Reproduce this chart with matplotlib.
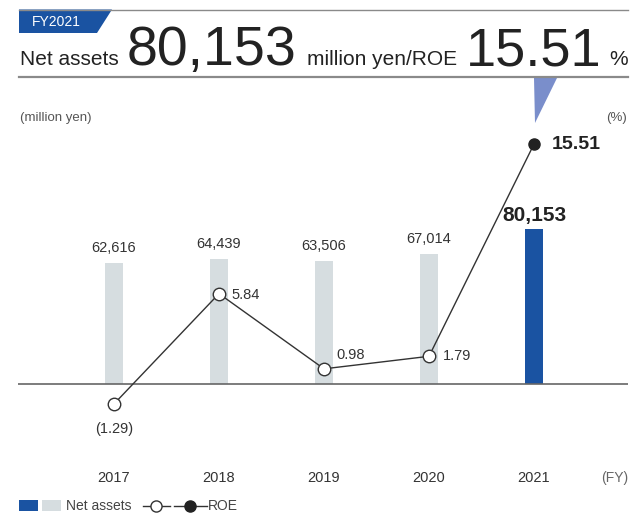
import matplotlib
matplotlib.use('Agg')
import matplotlib.pyplot as plt
from matplotlib.patches import Polygon, Rectangle

plt.rcParams['font.family'] = ['Liberation Sans', 'DejaVu Sans']

years = ['2017', '2018', '2019', '2020', '2021']
net_assets = [62616, 64439, 63506, 67014, 80153]
roe = [-1.29, 5.84, 0.98, 1.79, 15.51]
roe_labels = ['(1.29)', '5.84', '0.98', '1.79', '15.51']

GREY_BAR = '#d6dde0'
BLUE = '#1a53a2'
TEXT = '#333333'

W, H = 631, 515
fig = plt.figure(figsize=(W / 100, H / 100), dpi=100)


def px_box(left, top, right, bottom):
    # pixel box -> figure fraction rect
    return [left / W, 1 - bottom / H, (right - left) / W, (bottom - top) / H]


# main chart area (bars on ax, ROE on ax2)
ax = fig.add_axes(px_box(18, 130, 628, 460))
ax2 = ax.twinx()
x = list(range(len(years)))

colors = [GREY_BAR] * (len(years) - 1) + [BLUE]
ax.bar(x, net_assets, width=0.18, color=colors, zorder=1)
ax.axhline(0, color='#666666', lw=1.2, zorder=2)
ax.set_xlim(-0.914, 4.895)
ax.set_ylim(-39300, 131350)
ax2.set_ylim(-4.913, 16.419)

for i, v in enumerate(net_assets):
    last = i == len(net_assets) - 1
    ax.annotate(f'{v:,}', (i, v), xytext=(0, 3 if last else 6), textcoords='offset points',
                ha='center', va='bottom', fontsize=15 if last else 10.5,
                fontweight='bold' if last else 'normal', color=TEXT if not last else '#222222')

for i, yr in enumerate(years):
    ax.text(i, -0.055, yr, transform=ax.get_xaxis_transform(), ha='center', va='center',
            fontsize=10.5, color=TEXT)
ax.text(1.0, -0.055, '(FY)', transform=ax.transAxes, ha='right', va='center',
        fontsize=10, color='#666666')

# ROE line: open markers, last year filled
ax2.plot(x, roe, color='#333333', lw=1.0, zorder=3)
ax2.plot(x[:-1], roe[:-1], 'o', ms=9, mfc='white', mec='#333333', mew=1.0, zorder=4)
ax2.plot(x[-1:], roe[-1:], 'o', ms=8, mfc='#222222', mec='#222222', zorder=4)

label_pos = [(0, -18, 'center', 'center'), (9, -1, 'left', 'center'), (9, 10, 'left', 'center'),
             (10, 0, 'left', 'center'), (13, 0, 'left', 'center')]
for i, (txt, (dx, dy, ha, va)) in enumerate(zip(roe_labels, label_pos)):
    last = i == len(roe) - 1
    ax2.annotate(txt, (i, roe[i]), xytext=(dx, dy), textcoords='offset points', ha=ha, va=va,
                 fontsize=14 if last else 10.5, fontweight='bold' if last else 'normal',
                 color='#222222' if last else TEXT)

for a in (ax, ax2):
    a.axis('off')

# header, side units and legend drawn in pixel space
ov = fig.add_axes([0, 0, 1, 1])
ov.set_xlim(0, W)
ov.set_ylim(H, 0)
ov.axis('off')

ov.plot([19, 628], [9.5, 9.5], color='#8a8a8a', lw=1.0)
ov.plot([19, 628], [77, 77], color='#8a8a8a', lw=1.6)
ov.add_patch(Polygon([(19, 9.5), (112, 9.5), (97, 33), (19, 33)], closed=True, color=BLUE, lw=0))
ov.text(32, 21.5, 'FY' + years[-1], color='white', fontsize=10, ha='left', va='center')

ov.text(20, 65, 'Net assets', fontsize=15, ha='left', va='baseline', color='#222222')
ov.text(127, 65, f'{net_assets[-1]:,}', fontsize=40, ha='left', va='baseline', color='#222222')
ov.text(307, 65, 'million yen/ROE', fontsize=15, ha='left', va='baseline', color='#222222')
ov.text(466, 66, f'{roe[-1]:.2f}', fontsize=39, ha='left', va='baseline', color='#222222')
ov.text(609, 65, '%', fontsize=15, ha='left', va='baseline', color='#222222')

# pointer from the headline ROE down to its data point
ov.add_patch(Polygon([(534, 78), (557, 78), (535, 123)], closed=True, color='#7a8ecb', lw=0))

ov.text(20, 118, '(million yen)', fontsize=9.5, ha='left', va='center', color='#555555')
ov.text(627, 118, '(%)', fontsize=9.5, ha='right', va='center', color='#555555')

ov.add_patch(Rectangle((19, 500), 19, 11, color=BLUE, lw=0))
ov.add_patch(Rectangle((42, 500), 19, 11, color=GREY_BAR, lw=0))
ov.text(66, 505.5, 'Net assets', fontsize=10, ha='left', va='center', color='#444444')
ov.plot([143, 170], [505.5, 505.5], color='#333333', lw=1.0)
ov.plot([156], [505.5], 'o', ms=8, mfc='white', mec='#333333', mew=1.0)
ov.plot([174, 207], [505.5, 505.5], color='#333333', lw=1.0)
ov.plot([190], [505.5], 'o', ms=8, mfc='#222222', mec='#222222')
ov.text(208, 505.5, 'ROE', fontsize=10, ha='left', va='center', color='#444444')

fig.savefig('out.png', dpi=100)
